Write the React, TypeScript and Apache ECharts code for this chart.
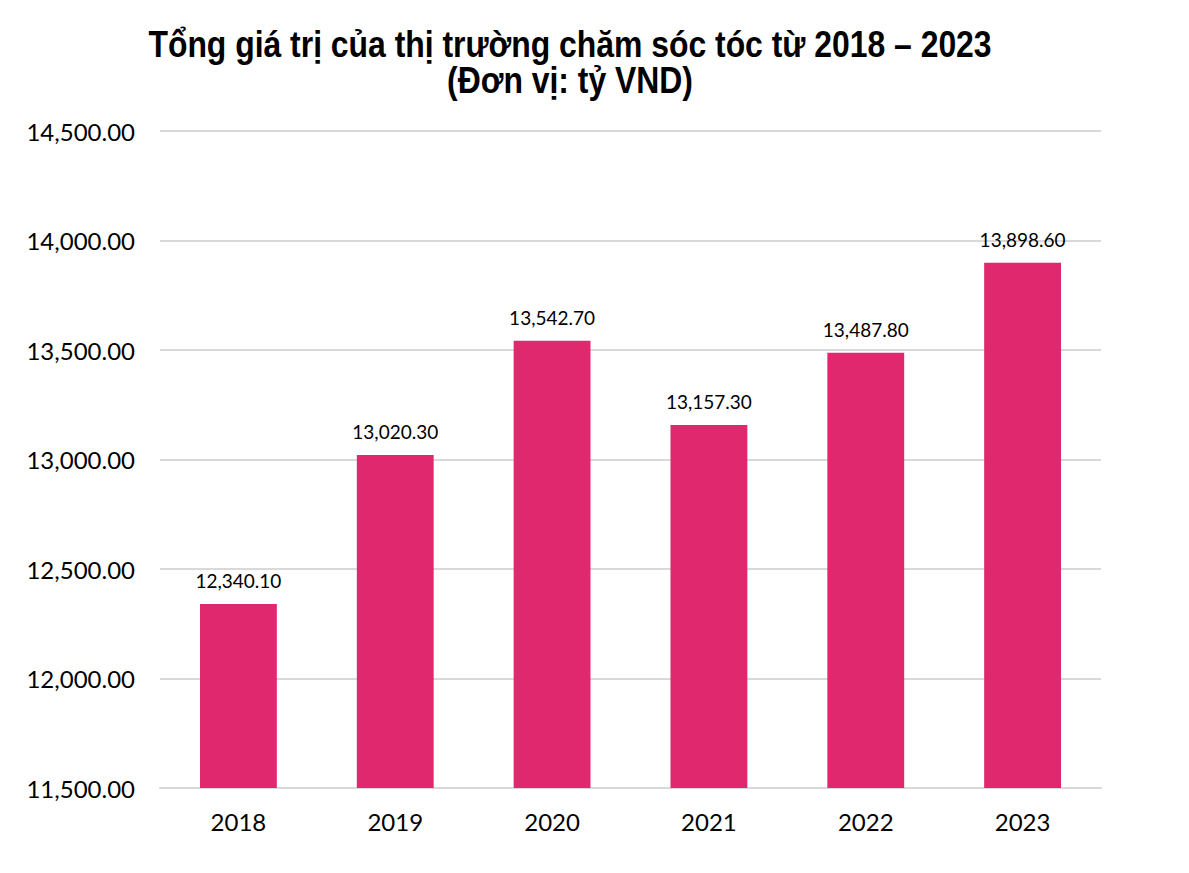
import React, { useEffect, useRef } from "react";
import * as echarts from "echarts";

const years = ["2018", "2019", "2020", "2021", "2022", "2023"];
const marketValues = [12340.1, 13020.3, 13542.7, 13157.3, 13487.8, 13898.6];
const titleLines = [
  "Tổng giá trị của thị trường chăm sóc tóc từ 2018 – 2023",
  "(Đơn vị: tỷ VND)",
];

const fmt = (v: number) =>
  v.toLocaleString("en-US", { minimumFractionDigits: 2, maximumFractionDigits: 2 });

const labelFont = "Lato, 'Noto Sans', sans-serif";
const titleFont = "bold 37px 'Liberation Sans', Arial, sans-serif";

export default function App() {
  const ref = useRef<HTMLDivElement>(null);

  useEffect(() => {
    if (!ref.current) return;
    const chart = echarts.init(ref.current, undefined, { renderer: "svg" });
    chart.setOption({
      animation: false,
      backgroundColor: "#ffffff",
      // Condensed bold title, drawn as two horizontally squeezed text lines
      graphic: titleLines.map((line, i) => ({
        type: "text",
        x: 570,
        y: 44 + i * 36,
        scaleX: 0.862,
        style: {
          text: line,
          x: 0,
          y: 0,
          font: titleFont,
          fill: "#000000",
          align: "center",
          verticalAlign: "middle",
        },
      })),
      grid: { left: 160, right: 88, top: 131, bottom: 85, containLabel: false },
      xAxis: {
        type: "category",
        data: years,
        axisLine: { show: true, lineStyle: { color: "#d9d9d9", width: 2 } },
        axisTick: { show: false },
        axisLabel: {
          color: "#000000",
          fontSize: 24,
          fontFamily: labelFont,
          margin: 21,
        },
      },
      yAxis: {
        type: "value",
        min: 11500,
        max: 14500,
        interval: 500,
        axisLine: { show: false },
        axisTick: { show: false },
        splitLine: { lineStyle: { color: "#d9d9d9", width: 2 } },
        axisLabel: {
          color: "#000000",
          fontSize: 24,
          fontFamily: labelFont,
          margin: 25,
          formatter: (v: number) => fmt(v),
        },
      },
      series: [
        {
          type: "bar",
          data: marketValues,
          barWidth: "49%",
          itemStyle: { color: "#E0286F" },
          label: {
            show: true,
            position: "top",
            distance: 14,
            color: "#000000",
            fontSize: 19,
            fontFamily: labelFont,
            formatter: (p: any) => fmt(p.value),
          },
        },
      ],
    });
    return () => chart.dispose();
  }, []);

  return (
    <div
      ref={ref}
      style={{ position: "fixed", left: 0, top: 0, width: 1189, height: 873 }}
    />
  );
}
